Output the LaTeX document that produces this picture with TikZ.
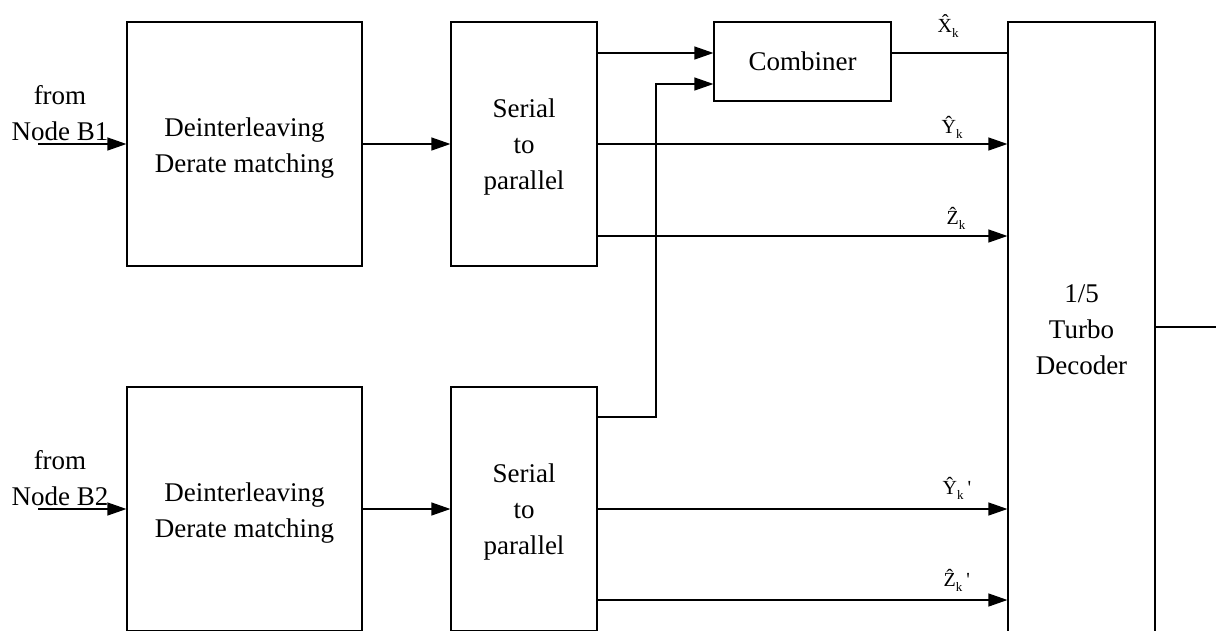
\documentclass[tikz,border=0pt]{standalone}
\usepackage{fontspec}
\setmainfont{Liberation Serif}
\usetikzlibrary{arrows.meta}
\newcommand\sublab[3]{{\fontsize{20}{20}\selectfont #1\raisebox{-5pt}{\fontsize{13}{13}\selectfont #2}#3}}
\begin{document}
\begin{tikzpicture}[x=1pt,y=-1pt,
  line width=1.2pt,
  every node/.style={font=\fontsize{27}{36}\selectfont},
  blk/.style={draw,line width=1.2pt,inner sep=0pt},
  txt/.style={align=center,inner sep=0pt},
  conn/.style={-{Triangle[length=19pt,width=13pt]}},
  plain/.style={inner sep=0pt}]
\path[use as bounding box,clip] (0,0) rectangle (1216,630);
\fill[white] (0,0) rectangle (1216,630);
% blocks
\node[blk,minimum width=235pt,minimum height=244pt] (A1) at (244.5,144) {};
\node[txt] (A1t) at (244.5,148) {Deinterleaving\\Derate matching};
\node[blk,minimum width=146pt,minimum height=244pt] (B1) at (524,144) {};
\node[txt] (B1t) at (524,147) {Serial\\to\\parallel};
\node[blk,minimum width=177pt,minimum height=79pt] (C) at (802.5,61.5) {Combiner};
\node[blk,align=center,minimum width=147pt,minimum height=616pt] (D) at (1081.5,330) {1/5\\Turbo\\Decoder};
\node[blk,minimum width=235pt,minimum height=244pt] (A2) at (244.5,509) {};
\node[txt] (A2t) at (244.5,513) {Deinterleaving\\Derate matching};
\node[blk,minimum width=146pt,minimum height=244pt] (B2) at (524,509) {};
\node[txt] (B2t) at (524,512) {Serial\\to\\parallel};
% inputs
\node[plain,anchor=base] (f1) at (60,104) {from};
\node[plain,anchor=base] (n1) at (60,140) {Node B1};
\node[plain,anchor=base] (f2) at (60,469) {from};
\node[plain,anchor=base] (n2) at (60,505) {Node B2};
\coordinate (in1) at (38,144);
\coordinate (in2) at (38,509);
\draw[conn] (in1) -- (A1.west |- in1);
\draw[conn] (in2) -- (A2.west |- in2);
\draw[conn] (A1.east |- in1) -- (B1.west |- in1);
\draw[conn] (A2.east |- in2) -- (B2.west |- in2);
% S/P outputs
\coordinate (r1) at (0,53);
\coordinate (r2) at (0,144);
\coordinate (r3) at (0,236);
\coordinate (r4) at (0,84);
\coordinate (s1) at (0,417);
\coordinate (s2) at (0,509);
\coordinate (s3) at (0,600);
\coordinate (jog) at (656,0);
\draw[conn] (B1.east |- r1) -- (C.west |- r1);
\draw (C.east |- r1) -- (D.west |- r1);
\draw[conn] (B1.east |- r2) -- (D.west |- r2);
\draw[conn] (B1.east |- r3) -- (D.west |- r3);
\draw[conn] (B2.east |- s1) -- (jog |- s1) -- (jog |- r4) -- (C.west |- r4);
\draw[conn] (B2.east |- s2) -- (D.west |- s2);
\draw[conn] (B2.east |- s3) -- (D.west |- s3);
% output
\coordinate (out) at (1216,327);
\draw (D.east |- out) -- (out);
% labels
\node[plain,anchor=base west] (lx) at (937,32) {\sublab{\^{X}}{k}{}};
\node[plain,anchor=base west] (ly) at (941,133) {\sublab{\^{Y}}{k}{}};
\node[plain,anchor=base west] (lz) at (946,224) {\sublab{\^{Z}}{k}{}};
\node[plain,anchor=base west] (ly2) at (942,494) {\sublab{\^{Y}}{k}{\hspace{4pt}\textquotesingle}};
\node[plain,anchor=base west] (lz2) at (943,586) {\sublab{\^{Z}}{k}{\hspace{4pt}\textquotesingle}};
\end{tikzpicture}
\end{document}
